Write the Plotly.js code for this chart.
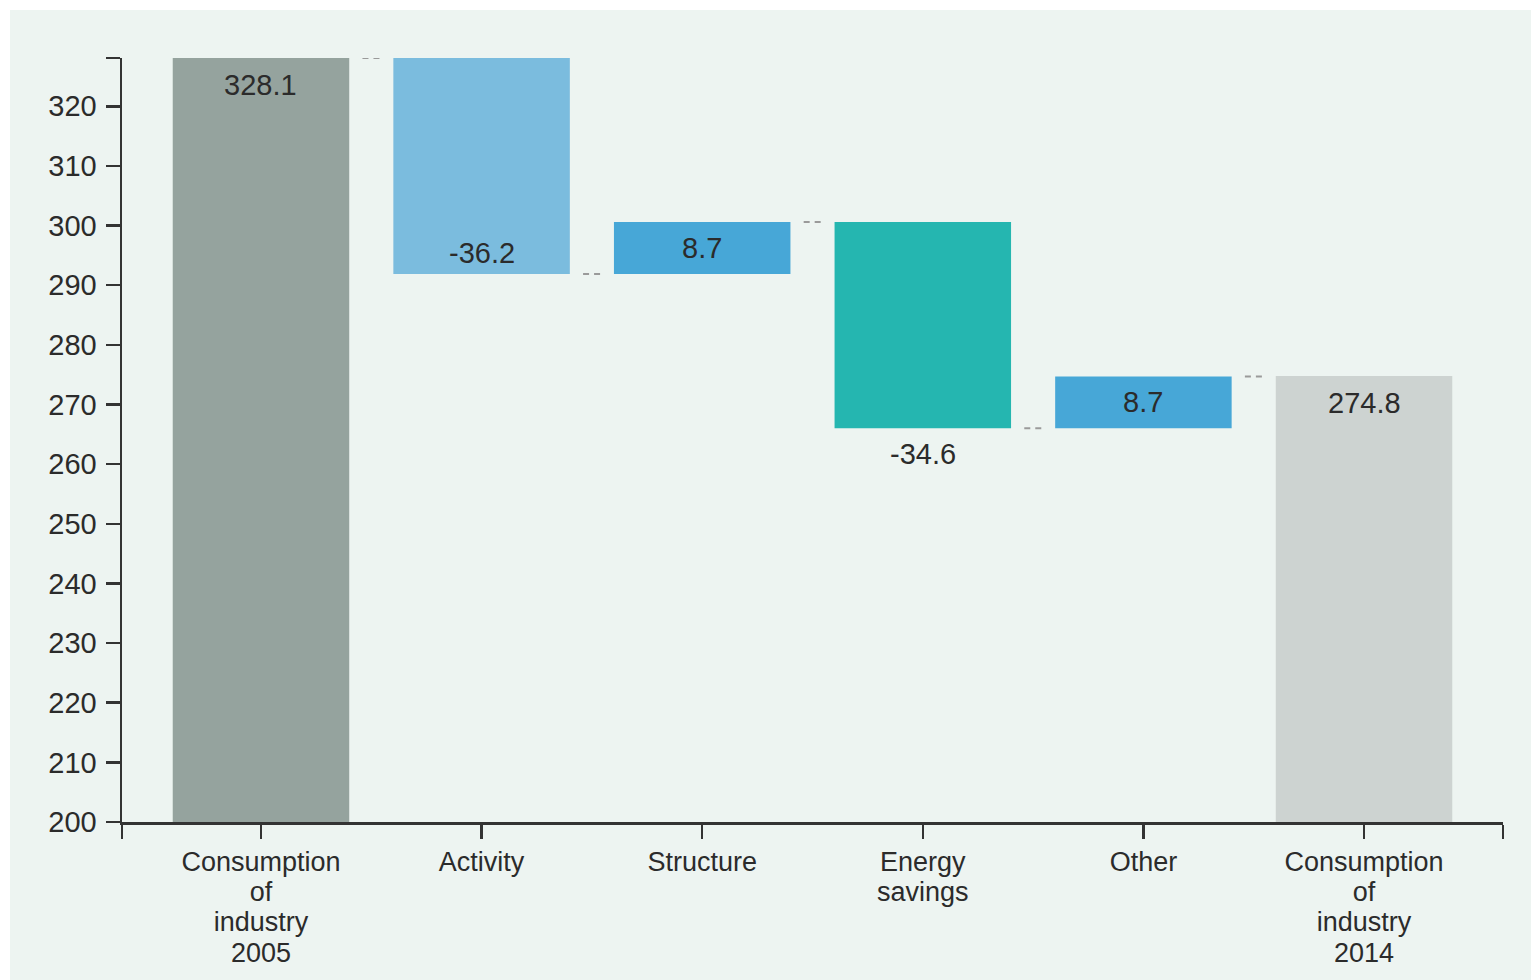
<!DOCTYPE html>
<html>
<head>
<meta charset="utf-8">
<script src="https://cdn.plot.ly/plotly-3.0.1.min.js"></script>
<style>
  html, body { margin: 0; padding: 0; background: #ffffff; }
  #chart { position: absolute; left: 10px; top: 10px; width: 1521px; height: 970px; }
</style>
</head>
<body>
<div id="chart"></div>
<script>
// ---- data ----
const categories = ["Consumption<br>of<br>industry<br>2005", "Activity", "Structure", "Energy<br>savings", "Other", "Consumption<br>of<br>industry<br>2014"];
const values = [328.1, -36.2, 8.7, -34.6, 8.7, 274.8];
const measures = ["total", "relative", "relative", "relative", "relative", "total"];
const yTickVals = [200, 210, 220, 230, 240, 250, 260, 270, 280, 290, 300, 310, 320];
const yMin = 200;

// ---- style ----
const barColors = ["#95a39e", "#7bbcde", "#47a7d7", "#25b6b0", "#47a7d7", "#cdd3d1"];
const labelPos = ["top-in", "bottom-in", "mid", "bottom-out", "mid", "top-in"];
const fontFam = "Liberation Sans, Arial, sans-serif";
const textColor = "#2b2b2b";
const fontSize = 29;
const catFontSize = 27;
const barWidth = 0.8;
const xPad = 0.63;

// compute bar bases/tops from data
const idx = categories.map((c, i) => i);
let running = 0;
const bases = [], tops = [], ends = [];
values.forEach((v, i) => {
  if (measures[i] === "total") {
    bases.push(yMin); tops.push(v); running = v;
  } else {
    const start = running; running = start + v;
    bases.push(Math.min(start, running)); tops.push(Math.max(start, running));
  }
  ends.push(running);
});

const trace = {
  type: "bar",
  x: idx,
  y: tops.map((t, i) => t - bases[i]),
  base: bases,
  width: barWidth,
  marker: { color: barColors, line: { width: 0 } },
  hoverinfo: "skip"
};

const shapes = [];
for (let i = 0; i < categories.length - 1; i++) {
  shapes.push({
    type: "line", xref: "x", yref: "y",
    x0: i + barWidth / 2 + 0.06, x1: i + 1 - barWidth / 2 - 0.06,
    y0: ends[i], y1: ends[i],
    line: { color: "#9a9a9a", width: 2, dash: "6px,5px" }
  });
}

const annotations = [];
values.forEach((v, i) => {
  let y, shift;
  const p = labelPos[i];
  if (p === "top-in") { y = tops[i]; shift = -27; }
  else if (p === "bottom-in") { y = bases[i]; shift = 21; }
  else if (p === "bottom-out") { y = bases[i]; shift = -26; }
  else { y = (tops[i] + bases[i]) / 2; shift = 0; }
  annotations.push({
    x: i, y: y, xref: "x", yref: "y", yshift: shift,
    text: v.toFixed(1), showarrow: false, yanchor: "middle",
    font: { family: fontFam, size: fontSize, color: textColor }
  });
});

const lastX = categories.length - 1 + xPad;
const layout = {
  width: 1521, height: 970,
  margin: { l: 112, r: 28, t: 48, b: 158, pad: 0 },
  paper_bgcolor: "#edf4f1",
  plot_bgcolor: "#edf4f1",
  showlegend: false,
  font: { family: fontFam, size: fontSize, color: textColor },
  xaxis: {
    range: [-xPad, lastX],
    tickvals: [-xPad].concat(idx, [lastX]),
    ticktext: [""].concat(categories, [""]),
    tickfont: { family: fontFam, size: catFontSize, color: textColor },
    ticks: "outside", ticklen: 14, tickwidth: 2.5, tickcolor: "#333",
    showline: true, linecolor: "#333", linewidth: 2.5,
    showgrid: false, zeroline: false, fixedrange: true, tickangle: 0
  },
  yaxis: {
    range: [yMin, values[0]],
    tickvals: yTickVals.concat([values[0]]),
    ticktext: yTickVals.map(String).concat([""]),
    ticks: "outside", ticklen: 14, tickwidth: 2.5, tickcolor: "#333",
    ticklabelstandoff: 3,
    showline: true, linecolor: "#333", linewidth: 2.5,
    showgrid: false, zeroline: false, fixedrange: true,
    tickfont: { family: fontFam, size: fontSize, color: textColor }
  },
  shapes: shapes,
  annotations: annotations
};

Plotly.newPlot("chart", [trace], layout, { displayModeBar: false, staticPlot: true }).then(function () {
  // tighten multi-line category label line spacing toward the reference
  const factor = 1.12 / 1.3;
  document.querySelectorAll("#chart .xtick text tspan.line").forEach(function (t) {
    const dy = t.getAttribute("dy");
    if (dy && dy.indexOf("em") > 0) {
      const v = parseFloat(dy);
      t.setAttribute("dy", (v * factor) + "em");
    }
  });
});
</script>
</body>
</html>
